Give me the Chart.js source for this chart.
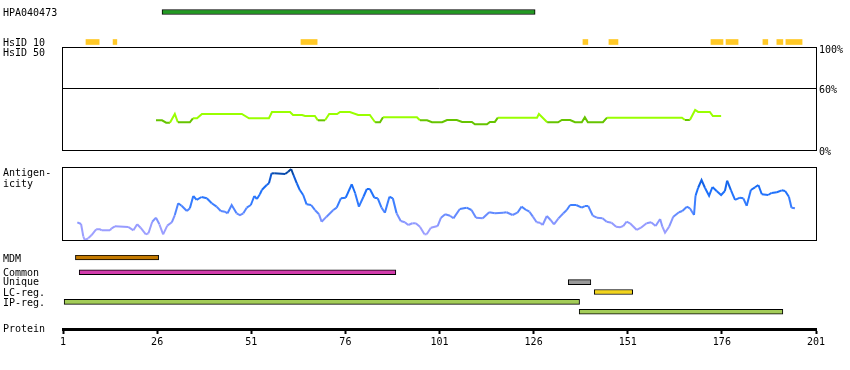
<!DOCTYPE html>
<html>
<head>
<meta charset="utf-8">
<script src="https://cdn.jsdelivr.net/npm/chart.js@4.4.1/dist/chart.umd.min.js"></script>
<style>
  html, body { margin: 0; padding: 0; background: #fff; }
  #wrap { position: relative; width: 850px; height: 370px; overflow: hidden;
          font: 10px "DejaVu Sans Mono", monospace; color: #000; }
  #wrap canvas { position: absolute; left: 0; }
  .lbl { position: absolute; left: 3px; line-height: 10px; white-space: pre; }
</style>
</head>
<body>
<div id="wrap">
  <canvas id="topTracks" width="850" height="50" style="top:0px"></canvas>
  <canvas id="identity" width="850" height="125" style="top:38px"></canvas>
  <canvas id="antigen" width="850" height="90" style="top:160px"></canvas>
  <canvas id="features" width="850" height="125" style="top:245px"></canvas>
  <div class="lbl" style="top:8px">HPA040473</div>
  <div class="lbl" style="top:38px">HsID 10</div>
  <div class="lbl" style="top:48px">HsID 50</div>
  <div class="lbl" style="top:168px">Antigen-</div>
  <div class="lbl" style="top:179px">icity</div>
  <div class="lbl" style="top:254px">MDM</div>
  <div class="lbl" style="top:268px">Common</div>
  <div class="lbl" style="top:277px">Unique</div>
  <div class="lbl" style="top:288px">LC-reg.</div>
  <div class="lbl" style="top:298px">IP-reg.</div>
  <div class="lbl" style="top:324px">Protein</div>
</div>
<script>
// ---- data ----
const residueMin = 1;
const residueMax = 201;
const proteinTicks = [1, 26, 51, 76, 101, 126, 151, 176, 201];

const hpaSpan = [27.3, 126.4];
const hsid10Spans = [[7.1, 10.6], [14.3, 15.3], [64.2, 68.5], [139.1, 140.4], [146.0, 148.4],
  [173.1, 176.3], [177.1, 180.3], [186.9, 188.2], [190.6, 192.2], [193.0, 197.3]];

const identityTicks = [0, 60, 100];
const identityPos = [25.7, 27.3, 28.4, 29.4, 30.7, 31.5, 34.7, 35.5, 36.6, 37.9, 48.5, 50.4, 55.7, 56.5,
  61.3, 62.1, 64.5, 65.3, 67.9, 68.7, 70.6, 71.7, 73.8, 74.6, 77.2, 79.4, 82.5, 83.9, 85.2, 86.0, 95.0,
  95.8, 97.7, 99.0, 101.7, 103.0, 105.6, 107.0, 109.6, 110.4, 113.6, 114.4, 115.7, 116.5, 126.9, 127.4,
  129.6, 132.5, 133.5, 135.7, 137.0, 138.8, 139.6, 140.4, 144.4, 145.5, 165.4, 166.2, 167.5, 168.9,
  169.7, 172.8, 173.6, 175.8];
const identityVal = [29.1, 29.1, 26.8, 26.8, 35.3, 27.2, 27.2, 31.1, 31.1, 35.3, 35.3, 31.1, 31.1, 37.3,
  37.3, 34.3, 34.3, 33.3, 33.3, 29.1, 29.1, 35.3, 35.3, 37.3, 37.3, 34.3, 34.3, 27.2, 27.2, 32.1, 32.1,
  29.1, 29.1, 27.2, 27.2, 29.4, 29.4, 27.5, 27.5, 25.2, 25.2, 27.5, 27.5, 31.7, 31.7, 35.3, 27.2, 27.2,
  29.4, 29.4, 27.2, 27.2, 32.1, 27.2, 27.2, 31.7, 31.7, 29.4, 29.4, 39.2, 37.3, 37.3, 33.3, 33.3];

const antigenPos = [4.8, 5.8, 6.4, 6.8, 7.7, 8.6, 9.8, 10.8, 11.3, 13.5, 13.9, 14.8, 18.3, 19.7, 20.7,
  21.6, 23.0, 23.7, 24.7, 25.7, 26.6, 27.6, 28.7, 29.9, 30.7, 31.6, 32.5, 33.9, 34.7, 35.6, 36.5, 37.8,
  39.2, 40.5, 41.8, 42.9, 44.0, 44.7, 45.8, 47.1, 48.0, 48.9, 49.8, 50.9, 51.8, 52.5, 53.3, 53.8, 55.1,
  55.7, 56.4, 57.1, 60.0, 60.8, 61.6, 62.2, 63.1, 63.9, 64.8, 65.7, 66.9, 67.9, 69.0, 69.7, 71.0, 72.8,
  73.7, 74.8, 76.1, 77.7, 78.6, 79.6, 80.8, 81.7, 82.5, 83.7, 84.6, 85.6, 86.5, 87.7, 88.6, 89.6, 90.7,
  91.8, 92.7, 93.8, 94.7, 95.8, 97.0, 97.6, 98.7, 100.5, 101.4, 102.5, 103.8, 104.7, 106.4, 108.2,
  109.5, 110.7, 112.5, 114.2, 115.7, 117.9, 118.8, 120.4, 121.7, 122.8, 124.0, 124.9, 125.8, 126.8,
  127.7, 128.4, 129.5, 130.5, 131.4, 132.6, 133.9, 134.8, 135.7, 137.3, 138.8, 139.6, 140.5, 141.7,
  142.8, 144.3, 145.4, 146.7, 147.9, 148.9, 149.8, 150.7, 151.6, 153.4, 154.5, 156.0, 157.2, 158.4,
  159.6, 160.2, 160.9, 162.0, 163.1, 164.6, 165.5, 166.7, 167.5, 168.6, 169.0, 169.7, 170.6, 171.5,
  172.6, 173.5, 174.6, 175.8, 176.8, 177.4, 178.4, 179.5, 180.8, 181.7, 182.6, 183.7, 184.8, 185.7,
  186.6, 188.3, 189.2, 190.6, 191.9, 192.8, 193.8, 194.5, 195.4];
const antigenVal = [24.6, 22.2, 4.6, 0, 2.4, 6.9, 14.9, 14.9, 13.5, 13.5, 16.3, 19.0, 18.1, 13.5, 21.8,
  17.1, 7.9, 9.3, 25.4, 31.0, 21.8, 7.9, 19.9, 24.6, 34.7, 51.0, 47.6, 40.3, 44.0, 61.1, 55.6, 59.7,
  57.9, 51.0, 46.3, 40.3, 39.3, 37.1, 48.6, 37.1, 34.7, 37.1, 44.9, 48.6, 61.1, 57.0, 63.5, 69.4, 76.4,
  78.8, 92.6, 92.6, 91.7, 94.9, 98.6, 90.3, 78.8, 69.4, 62.5, 49.6, 48.6, 41.7, 35.7, 25.4, 32.4, 41.7,
  44.9, 57.9, 58.8, 77.4, 64.9, 46.3, 60.1, 70.8, 70.8, 58.8, 57.9, 44.9, 37.9, 60.1, 57.9, 37.1, 26.4,
  24.6, 20.8, 23.2, 23.2, 18.5, 7.9, 7.9, 17.1, 19.4, 31.0, 35.7, 33.8, 30.1, 43.1, 44.9,
  41.7, 31.0, 30.1, 38.5, 37.1, 37.9, 38.5, 34.7, 37.9, 46.3, 41.7, 39.3, 32.4, 24.6,
  24.0, 20.8, 33.3, 27.8, 21.8, 30.1, 37.1, 41.7, 48.6, 48.6, 44.9, 47.2, 47.2, 33.8,
  31.0, 30.1, 25.4, 24.0, 18.5, 17.6, 19.4, 25.4, 23.2, 13.9, 17.1, 23.2, 24.6, 19.4,
  29.2, 18.5, 10.1, 18.5, 32.4, 38.5, 40.3, 46.3, 44.0, 34.7, 61.5, 72.6, 83.3, 72.6,
  61.5, 73.6, 68.1, 62.5, 68.1, 82.4, 69.4, 55.6, 58.8, 57.9, 47.6, 69.4, 73.2, 76.4,
  63.5, 62.5, 65.3, 66.3, 69.0, 68.1, 60.1, 44.9, 44.0];

const featureNames = ['MDM', 'Common', 'Unique', 'LC-reg.', 'IP-reg.', 'IP-reg.'];
const featureStart = [4.3, 5.3, 135.2, 142.1, 1.3, 138.1];
const featureEnd = [26.4, 89.4, 141.2, 152.3, 138.2, 192.2];

// ---- styles and layout ----
const font = { family: 'DejaVu Sans Mono', size: 10 };
const featureColors = ['#c47a00', '#d23cac', '#999999', '#f2d41c', '#a3cc58', '#a3cc58'];
const featureSlot = [0, 3, 5, 7, 9, 11];
const hpaColor = '#229a22';
const hsidColor = '#ffc825';
const idLight = '#99ff00', idDark = '#66c400';
const antigenStops = [
  [0, [165, 165, 255]], [20, [150, 155, 255]], [35, [105, 140, 255]], [50, [55, 125, 255]],
  [70, [25, 110, 250]], [85, [15, 90, 215]], [95, [5, 70, 160]], [100, [0, 60, 140]]
];

Chart.defaults.animation = false;
Chart.defaults.responsive = false;
Chart.defaults.plugins.legend.display = false;
Chart.defaults.plugins.tooltip.enabled = false;
Chart.defaults.font.family = font.family;
Chart.defaults.font.size = font.size;
Chart.defaults.color = '#000';

function antigenColor(v) {
  for (let i = 1; i < antigenStops.length; i++) {
    const [v1, c1] = antigenStops[i];
    const [v0, c0] = antigenStops[i - 1];
    if (v <= v1) {
      const t = (v - v0) / (v1 - v0);
      const c = c0.map((k, j) => Math.round(k + (c1[j] - k) * t));
      return 'rgb(' + c.join(',') + ')';
    }
  }
  return 'rgb(0,60,140)';
}

const frame = {
  id: 'frame',
  afterDatasetsDraw(chart) {
    const { ctx, chartArea: a } = chart;
    ctx.save();
    ctx.strokeStyle = '#000';
    ctx.lineWidth = 1;
    ctx.strokeRect(Math.round(a.left) - 0.5, Math.round(a.top) - 0.5,
      Math.round(a.right - a.left) + 1, Math.round(a.bottom - a.top) + 1);
    ctx.restore();
  }
};

const residueAxis = { type: 'linear', min: residueMin, max: residueMax, display: false };

// move a canvas so its plot area starts at the wanted page row
function pin(chart, top) {
  chart.canvas.style.top = Math.round(top - chart.chartArea.top) + 'px';
}

// top tracks: antibody + HsID 10
const topChart = new Chart(document.getElementById('topTracks'), {
  type: 'bar',
  data: {
    datasets: [{
      data: [{ x: hpaSpan, y: 0 }].concat(hsid10Spans.map(s => ({ x: s, y: 3 }))),
      backgroundColor: [hpaColor].concat(hsid10Spans.map(() => hsidColor)),
      borderColor: '#000',
      borderWidth: [1].concat(hsid10Spans.map(() => 0)),
      borderSkipped: false,
      barThickness: 5
    }]
  },
  options: {
    indexAxis: 'y',
    layout: { padding: { left: 63, right: 34, top: 7, bottom: 3 } },
    scales: {
      x: residueAxis,
      y: { type: 'linear', min: -0.5, max: 3.5, reverse: true, offset: false, display: false }
    }
  }
});

// HsID 50 identity panel
const idChart = new Chart(document.getElementById('identity'), {
  type: 'line',
  data: {
    datasets: [{
      data: identityPos.map((x, i) => ({ x, y: identityVal[i] })),
      borderWidth: 2,
      pointRadius: 0,
      borderColor: idLight,
      segment: {
        borderColor: c => ((c.p0.parsed.y + c.p1.parsed.y) / 2 >= 30 ? idLight : idDark)
      }
    }]
  },
  options: {
    layout: { padding: { left: 63, right: 0, top: 10, bottom: 13 } },
    scales: {
      x: residueAxis,
      y: {
        type: 'linear', position: 'right', min: 0, max: 100,
        afterBuildTicks: s => { s.ticks = identityTicks.map(v => ({ value: v })); },
        afterFit: s => { s.width = 34; },
        ticks: { callback: v => v + '%', padding: 3, labelOffset: 2, font, color: '#000' },
        grid: {
          drawTicks: false,
          lineWidth: 1,
          color: c => (c.tick && c.tick.value === 60 ? '#000' : 'rgba(0,0,0,0)')
        },
        border: { display: false }
      }
    }
  },
  plugins: [frame]
});

// antigenicity panel
const agChart = new Chart(document.getElementById('antigen'), {
  type: 'line',
  data: {
    datasets: [{
      data: antigenPos.map((x, i) => ({ x, y: antigenVal[i] })),
      borderWidth: 2,
      pointRadius: 0,
      clip: 2,
      borderColor: antigenColor(40),
      segment: {
        borderColor: c => antigenColor((c.p0.parsed.y + c.p1.parsed.y) / 2)
      }
    }]
  },
  options: {
    layout: { padding: { left: 63, right: 34, top: 8, bottom: 10 } },
    scales: {
      x: residueAxis,
      y: { type: 'linear', min: 0, max: 100, display: false }
    }
  },
  plugins: [frame]
});

// feature tracks + protein axis
const featChart = new Chart(document.getElementById('features'), {
  type: 'bar',
  data: {
    labels: featureNames,
    datasets: [{
      data: featureNames.map((n, i) => ({ x: [featureStart[i], featureEnd[i]], y: featureSlot[i] })),
      backgroundColor: featureColors,
      borderColor: '#000',
      borderWidth: 1,
      borderSkipped: false,
      barThickness: 5
    }]
  },
  options: {
    indexAxis: 'y',
    layout: { padding: { left: 63, right: 34, top: 10, bottom: 0 } },
    scales: {
      x: {
        type: 'linear', min: residueMin, max: residueMax, position: 'bottom',
        afterBuildTicks: s => { s.ticks = proteinTicks.map(v => ({ value: v })); },
        afterFit: s => { s.height = 41; },
        ticks: { padding: 2, font, color: '#000', maxRotation: 0, autoSkip: false },
        grid: { drawOnChartArea: false, drawTicks: true, tickLength: 5, tickWidth: 2, color: '#000' },
        border: { display: true, width: 3, color: '#000' }
      },
      y: { type: 'linear', min: -0.5, max: 14.5, reverse: true, offset: false, display: false }
    }
  }
});

pin(topChart, 7);
pin(idChart, 48);
pin(agChart, 168);
pin(featChart, 255);
</script>
</body>
</html>
